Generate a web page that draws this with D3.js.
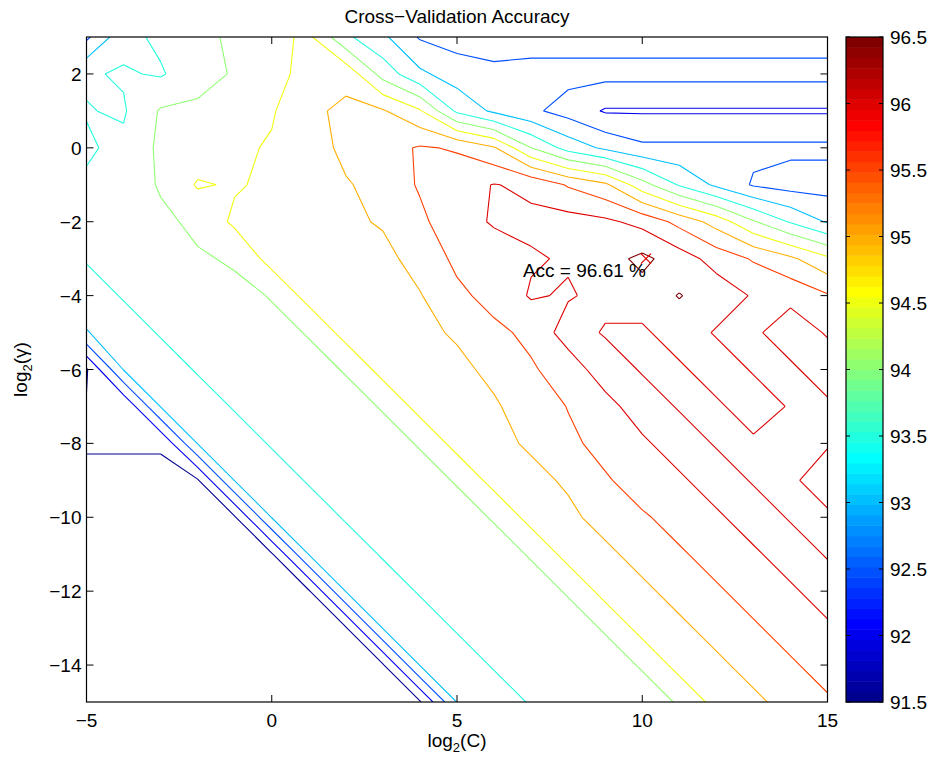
<!DOCTYPE html>
<html>
<head>
<meta charset="utf-8">
<script src="https://cdn.jsdelivr.net/npm/d3@7"></script>
<style>
  body { margin: 0; background: #fff; }
  svg { display: block; font-family: "Liberation Sans", Arial, Helvetica, sans-serif; }
</style>
</head>
<body>
<div id="chart"></div>
<script>
// grid axes (log2 C across, log2 gamma down from the top row)
const logC = [-5, -4, -3, -2, -1, 0, 1, 2, 3, 4, 5, 6, 7, 8, 9, 10, 11, 12, 13, 14, 15]
const logGamma = [3, 2, 1, 0, -1, -2, -3, -4, -5, -6, -7, -8, -9, -10, -11, -12, -13, -14, -15]

// cross-validation accuracy (%), one row per log2 gamma
const accuracy = [
  [92.4, 93.35, 93.6, 93.85, 94.1, 94.35, 94.6, 93.6, 93.1, 92.45, 92.3, 92.3, 92.3, 92.3, 92.3, 92.3, 92.3, 92.3, 92.3, 92.3, 92.3],
  [93.45, 93.55, 93.45, 93.8, 94.05, 94.3, 94.7, 94.85, 93.8, 93.1, 92.75, 92.6, 92.65, 92.65, 92.65, 92.65, 92.65, 92.65, 92.65, 92.65, 92.65],
  [93.52, 93.45, 94.05, 94.1, 94.2, 94.45, 94.9, 95.1, 95.05, 94.55, 93.4, 92.9, 92.6, 92.3, 91.95, 91.95, 91.95, 91.95, 91.95, 91.95, 91.95],
  [93.45, 93.6, 94.1, 94.2, 94.4, 94.55, 94.7, 95.15, 95.3, 95.55, 95.45, 95.05, 94.0, 93.3, 92.9, 92.6, 92.6, 92.6, 92.6, 92.6, 92.6],
  [93.55, 93.7, 94.05, 94.55, 94.45, 94.6, 94.8, 94.95, 95.2, 95.55, 95.8, 96.02, 95.9, 95.45, 95.1, 94.2, 93.45, 92.9, 92.45, 92.3, 92.3],
  [93.65, 93.85, 93.9, 94.1, 94.6, 94.75, 94.9, 94.9, 95.05, 95.4, 95.8, 96.05, 96.1, 96.2, 96.1, 95.85, 95.35, 94.8, 94.05, 93.45, 92.95],
  [93.55, 93.75, 93.85, 93.95, 94.05, 94.7, 94.75, 94.8, 94.85, 95.2, 95.6, 95.75, 95.95, 96.05, 96.3, 96.62, 96.25, 95.8, 95.45, 95.1, 94.6],
  [93.2, 93.55, 93.68, 93.8, 93.9, 94.02, 94.7, 94.8, 94.9, 94.97, 95.4, 95.65, 96.05, 95.95, 96.15, 96.3, 96.52, 96.3, 95.95, 95.85, 95.55],
  [92.98, 93.2, 93.55, 93.68, 93.8, 93.9, 94.02, 94.7, 94.8, 94.9, 95.05, 95.4, 95.6, 96.25, 95.95, 95.9, 96.3, 95.95, 95.9, 96.3, 95.95],
  [91.45, 93.02, 93.2, 93.55, 93.68, 93.8, 93.9, 94.02, 94.7, 94.8, 94.9, 95.1, 95.45, 95.7, 96.3, 95.95, 95.9, 96.3, 95.95, 95.9, 96.3],
  [91.53, 91.53, 93.02, 93.2, 93.55, 93.68, 93.8, 93.9, 94.02, 94.7, 94.8, 94.95, 95.2, 95.52, 95.8, 96.3, 95.95, 95.9, 96.3, 95.95, 95.9],
  [91.52, 91.52, 91.52, 93.02, 93.2, 93.55, 93.68, 93.8, 93.9, 94.02, 94.7, 94.8, 95.1, 95.4, 95.65, 95.9, 96.3, 95.95, 95.9, 95.98, 95.95],
  [91.45, 91.45, 91.45, 91.45, 93.02, 93.2, 93.55, 93.68, 93.8, 93.9, 94.02, 94.7, 94.8, 95.1, 95.45, 95.7, 95.9, 96.3, 95.95, 95.9, 96.3],
  [91.45, 91.45, 91.45, 91.45, 91.45, 93.02, 93.2, 93.55, 93.68, 93.8, 93.9, 94.02, 94.7, 94.85, 95.25, 95.45, 95.65, 95.9, 96.3, 95.95, 95.9],
  [91.45, 91.45, 91.45, 91.45, 91.45, 91.45, 93.02, 93.2, 93.55, 93.68, 93.8, 93.9, 94.02, 94.7, 94.85, 95.25, 95.45, 95.65, 95.9, 96.3, 95.95],
  [91.45, 91.45, 91.45, 91.45, 91.45, 91.45, 91.45, 93.02, 93.2, 93.55, 93.68, 93.8, 93.9, 94.02, 94.7, 94.85, 95.25, 95.45, 95.65, 95.9, 96.3],
  [91.45, 91.45, 91.45, 91.45, 91.45, 91.45, 91.45, 91.45, 93.02, 93.2, 93.55, 93.68, 93.8, 93.9, 94.02, 94.7, 94.85, 95.25, 95.45, 95.65, 95.9],
  [91.45, 91.45, 91.45, 91.45, 91.45, 91.45, 91.45, 91.45, 91.45, 93.02, 93.2, 93.55, 93.68, 93.8, 93.9, 94.02, 94.7, 94.85, 95.25, 95.45, 95.65],
  [91.45, 91.45, 91.45, 91.45, 91.45, 91.45, 91.45, 91.45, 91.45, 91.45, 93.02, 93.2, 93.55, 93.68, 93.8, 93.9, 94.02, 94.7, 94.85, 95.25, 95.45]
]

const levels = [91.5, 92, 92.5, 93, 93.5, 94, 94.5, 95, 95.5, 96, 96.5]
const xTicks = [-5, 0, 5, 10, 15]
const yTicks = [2, 0, -2, -4, -6, -8, -10, -12, -14]
const barTicks = [91.5, 92, 92.5, 93, 93.5, 94, 94.5, 95, 95.5, 96, 96.5]
const bestC = 10.1, bestGamma = -3, bestAcc = 96.61

const width = 935, height = 760
const plotL = 86.5, plotR = 827.5, plotT = 37, plotB = 702
const barL = 846, barR = 883
const fontSize = 19

const x = d3.scaleLinear().domain([-5, 15]).range([plotL, plotR])
const y = d3.scaleLinear().domain([-15, 3]).range([plotB, plotT])
const barY = d3.scaleLinear().domain([91.5, 96.5]).range([plotB, plotT])
const colIdx = d3.scaleLinear().domain([0, logC.length - 1]).range([logC[0], logC[logC.length - 1]])
const rowIdx = d3.scaleLinear().domain([0, logGamma.length - 1]).range([logGamma[0], logGamma[logGamma.length - 1]])

// matlab jet, 64 rows, k = 1..64
function jet(k) {
  const r = k <= 24 ? 0 : k <= 40 ? (k - 24) / 16 : k <= 56 ? 1 : (72 - k) / 16
  const g = k <= 8 ? 0 : k <= 24 ? (k - 8) / 16 : k <= 39 ? 1 : k <= 55 ? (56 - k) / 16 : 0
  const b = k <= 8 ? (k + 8) / 16 : k <= 23 ? 1 : k <= 39 ? (40 - k) / 16 : 0
  return d3.rgb(r * 255, g * 255, b * 255).toString()
}
const levelColor = v => jet(Math.min(64, Math.floor((v - 91.5) / 5 * 64) + 1))

// marching squares -> open segments in grid index space
function isoSegments(level) {
  const segs = []
  for (let j = 0; j < accuracy.length - 1; j++) {
    for (let i = 0; i < logC.length - 1; i++) {
      const p = [[i, j], [i + 1, j], [i + 1, j + 1], [i, j + 1]]
      const v = p.map(([a, b]) => accuracy[b][a])
      const pts = []
      for (let k = 0; k < 4; k++) {
        const v0 = v[k], v1 = v[(k + 1) % 4]
        if ((v0 < level) !== (v1 < level)) {
          const t = (level - v0) / (v1 - v0)
          const p0 = p[k], p1 = p[(k + 1) % 4]
          pts.push([p0[0] + t * (p1[0] - p0[0]), p0[1] + t * (p1[1] - p0[1])])
        }
      }
      if (pts.length === 2) segs.push(pts)
      else if (pts.length === 4) {
        const mid = d3.mean(v)
        if ((mid < level) === (v[0] < level)) { segs.push([pts[0], pts[1]]); segs.push([pts[2], pts[3]]) }
        else { segs.push([pts[3], pts[0]]); segs.push([pts[1], pts[2]]) }
      }
    }
  }
  return segs
}

const svg = d3.select('#chart').append('svg')
  .attr('width', width)
  .attr('height', height)

svg.append('clipPath').attr('id', 'plot-clip')
  .append('rect')
  .attr('x', plotL).attr('y', plotT)
  .attr('width', plotR - plotL).attr('height', plotB - plotT)

const lines = svg.append('g').attr('clip-path', 'url(#plot-clip)')
lines.selectAll('path')
  .data(levels)
  .join('path')
  .attr('fill', 'none')
  .attr('stroke', d => levelColor(d))
  .attr('stroke-width', 1.1)
  .attr('stroke-linejoin', 'round')
  .attr('d', d => isoSegments(d).map(s =>
      'M' + s.map(([a, b]) => x(colIdx(a)).toFixed(2) + ',' + y(rowIdx(b)).toFixed(2)).join('L')).join(''))

// best point
const bx = x(bestC), by = y(bestGamma)
svg.append('path')
  .attr('d', `M${bx - 5},${by - 5}L${bx + 5},${by + 5}M${bx - 5},${by + 5}L${bx + 5},${by - 5}`)
  .attr('stroke', '#e00000').attr('stroke-width', 1.2)
svg.append('text')
  .attr('x', bx).attr('y', y(bestGamma - 0.5))
  .attr('text-anchor', 'end')
  .attr('font-size', fontSize)
  .text(`Acc = ${bestAcc} %`)

// axes box and ticks
const axes = svg.append('g')
axes.append('rect')
  .attr('x', plotL).attr('y', plotT)
  .attr('width', plotR - plotL).attr('height', plotB - plotT)
  .attr('fill', 'none').attr('stroke', '#000').attr('stroke-width', 1.2)
axes.selectAll('.xt')
  .data(xTicks)
  .join('path')
  .attr('d', d => `M${x(d)},${plotB}v-7M${x(d)},${plotT}v7`)
  .attr('stroke', '#000')
axes.selectAll('.yt')
  .data(yTicks)
  .join('path')
  .attr('d', d => `M${plotL},${y(d)}h7M${plotR},${y(d)}h-7`)
  .attr('stroke', '#000')

const minus = v => String(v).replace('-', '\u2212')
axes.selectAll('.xl')
  .data(xTicks)
  .join('text')
  .attr('x', d => x(d)).attr('y', plotB + 25)
  .attr('text-anchor', 'middle')
  .attr('font-size', fontSize)
  .text(d => minus(d))
axes.selectAll('.yl')
  .data(yTicks)
  .join('text')
  .attr('x', plotL - 5).attr('y', d => y(d) + 7)
  .attr('text-anchor', 'end')
  .attr('font-size', fontSize)
  .text(d => minus(d))

const xLabel = svg.append('text')
  .attr('x', (plotL + plotR) / 2).attr('y', 747)
  .attr('text-anchor', 'middle')
  .attr('font-size', fontSize)
xLabel.append('tspan').text('log')
xLabel.append('tspan').attr('font-size', 13).attr('dy', 5).text('2')
xLabel.append('tspan').attr('dy', -5).text('(C)')

const yLabel = svg.append('text')
  .attr('transform', `translate(27,${(plotT + plotB) / 2}) rotate(-90)`)
  .attr('text-anchor', 'middle')
  .attr('font-size', fontSize)
yLabel.append('tspan').text('log')
yLabel.append('tspan').attr('font-size', 13).attr('dy', 5).text('2')
yLabel.append('tspan').attr('dy', -5).text('(\u03b3)')

svg.append('text')
  .attr('x', (plotL + plotR) / 2).attr('y', 23)
  .attr('text-anchor', 'middle')
  .attr('font-size', fontSize)
  .text('Cross\u2212Validation Accuracy')

// colorbar
const bar = svg.append('g')
const steps = d3.range(1, 65)
bar.selectAll('rect')
  .data(steps)
  .join('rect')
  .attr('x', barL)
  .attr('width', barR - barL)
  .attr('y', k => barY(91.5 + k * 5 / 64))
  .attr('height', barY(91.5) - barY(91.5 + 5 / 64) + 0.5)
  .attr('fill', k => jet(k))
bar.append('rect')
  .attr('x', barL).attr('y', plotT)
  .attr('width', barR - barL).attr('height', plotB - plotT)
  .attr('fill', 'none').attr('stroke', '#000').attr('stroke-width', 1.2)
bar.selectAll('.bt')
  .data(barTicks)
  .join('path')
  .attr('d', d => `M${barL},${barY(d)}h4M${barR},${barY(d)}h-4`)
  .attr('stroke', '#000')
bar.selectAll('text')
  .data(barTicks)
  .join('text')
  .attr('x', barR + 7).attr('y', d => barY(d) + 7)
  .attr('font-size', fontSize)
  .text(d => d)
</script>
</body>
</html>
